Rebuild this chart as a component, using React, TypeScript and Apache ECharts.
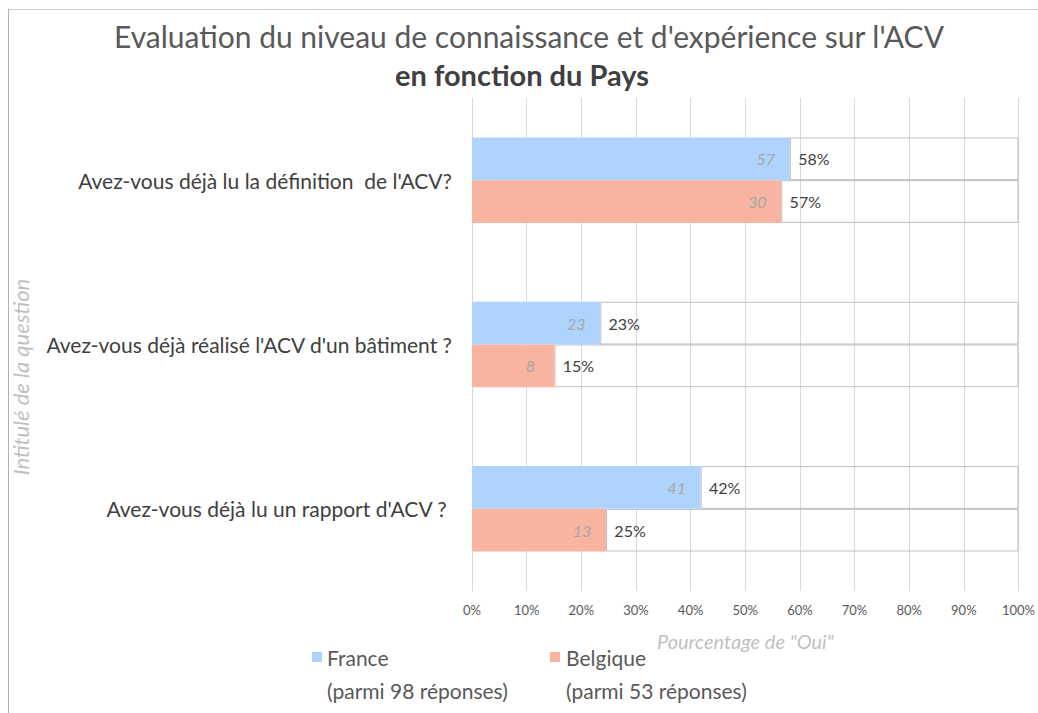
import React, { useEffect, useRef } from "react";
import * as echarts from "echarts";

const categories = [
  "Avez-vous déjà lu la définition  de l'ACV?",
  "Avez-vous déjà réalisé l'ACV d'un bâtiment ?",
  "Avez-vous déjà lu un rapport d'ACV ? ",
];
const francePct = [58.16, 23.47, 41.84];
const franceCount = [57, 23, 41];
const belgiquePct = [56.6, 15.09, 24.53];
const belgiqueCount = [30, 8, 13];
const xTicks = [0, 10, 20, 30, 40, 50, 60, 70, 80, 90, 100];
const seriesNames = ["France", "Belgique"];
const seriesSub = ["(parmi 98 réponses)", "(parmi 53 réponses)"];

const FONT = "Lato, 'Noto Sans', sans-serif";
const BLUE = "#AED3FC";
const SALMON = "#F8B3A1";

export default function App() {
  const ref = useRef<HTMLDivElement>(null);
  useEffect(() => {
    document.body.style.margin = "0";
    const chart = echarts.init(ref.current!, null, { renderer: "svg" });
    const mkLabel = (counts: number[]) => ({
      show: true,
      position: "right",
      distance: 0,
      align: "center",
      formatter: (p: any) => `{c|${counts[p.dataIndex]}}{p|${Math.round(p.value)}%}`,
      rich: {
        c: { width: 36, align: "right", padding: [0, 6, 0, 0], fontStyle: "italic", fontWeight: "normal", color: "#A6A6A6", fontSize: 16, fontFamily: FONT },
        p: { width: 36, align: "left", padding: [0, 0, 0, 6], fontWeight: "normal", color: "#404040", fontSize: 16, fontFamily: FONT },
      },
    });
    const restStyle = { color: "rgba(0,0,0,0)", borderColor: "#BFBFBF", borderWidth: 1 };
    chart.setOption({
      animation: false,
      textStyle: { fontFamily: FONT },
      grid: { left: 472, right: 16, top: 98, bottom: 122, containLabel: false },
      xAxis: {
        type: "value",
        min: 0,
        max: 100,
        interval: 10,
        axisLabel: { formatter: (v: number) => (xTicks.includes(v) ? v + "%" : ""), color: "#595959", fontSize: 13, margin: 12 },
        splitLine: { show: true, lineStyle: { color: "#D9D9D9" } },
        axisLine: { show: false },
        axisTick: { show: false },
        name: 'Pourcentage de "Oui"',
        nameLocation: "middle",
        nameGap: 40,
        nameTextStyle: { fontStyle: "italic", color: "#BFBFBF", fontSize: 20, fontFamily: FONT },
      },
      yAxis: {
        type: "category",
        inverse: true,
        data: categories,
        axisLine: { show: true, lineStyle: { color: "#D9D9D9" } },
        axisTick: { show: false },
        axisLabel: { color: "#404040", fontSize: 21, margin: 20 },
      },
      series: [
        { name: seriesNames[0], type: "bar", stack: "fr", data: francePct, itemStyle: { color: BLUE }, barCategoryGap: "48%", barGap: "0%", label: mkLabel(franceCount), z: 3 },
        { name: seriesNames[0] + "_rest", type: "bar", stack: "fr", data: francePct.map((v) => 100 - v), itemStyle: restStyle, z: 2 },
        { name: seriesNames[1], type: "bar", stack: "be", data: belgiquePct, itemStyle: { color: SALMON }, barCategoryGap: "48%", barGap: "0%", label: mkLabel(belgiqueCount), z: 3 },
        { name: seriesNames[1] + "_rest", type: "bar", stack: "be", data: belgiquePct.map((v) => 100 - v), itemStyle: restStyle, z: 2 },
      ],
      graphic: [
        { type: "line", shape: { x1: 8, y1: 9.5, x2: 1038, y2: 9.5 }, style: { stroke: "#D0D0D0", lineWidth: 1 } },
        { type: "line", shape: { x1: 8.5, y1: 9, x2: 8.5, y2: 713 }, style: { stroke: "#B0B0B0", lineWidth: 1 } },
        { type: "text", x: 529, y: 36, style: { text: "Evaluation du niveau de connaissance et d'expérience sur l'ACV", fill: "#595959", font: `30px ${FONT}`, textAlign: "center", textVerticalAlign: "middle" } },
        { type: "text", x: 522, y: 74, style: { text: "en fonction du Pays", fill: "#404040", font: `bold 29px ${FONT}`, textAlign: "center", textVerticalAlign: "middle" } },
        { type: "text", x: 20, y: 377, rotation: Math.PI / 2, style: { text: "Intitulé de la question", fill: "#BFBFBF", font: `italic 22px ${FONT}`, textAlign: "center", textVerticalAlign: "middle" } },
        { type: "rect", shape: { x: 312, y: 652, width: 10, height: 10 }, style: { fill: BLUE } },
        { type: "text", x: 327, y: 657, style: { text: seriesNames[0], fill: "#595959", font: `21px ${FONT}`, textVerticalAlign: "middle" } },
        { type: "text", x: 327, y: 690, style: { text: seriesSub[0], fill: "#595959", font: `21px ${FONT}`, textVerticalAlign: "middle" } },
        { type: "rect", shape: { x: 550, y: 652, width: 10, height: 10 }, style: { fill: SALMON } },
        { type: "text", x: 566, y: 657, style: { text: seriesNames[1], fill: "#595959", font: `21px ${FONT}`, textVerticalAlign: "middle" } },
        { type: "text", x: 566, y: 690, style: { text: seriesSub[1], fill: "#595959", font: `21px ${FONT}`, textVerticalAlign: "middle" } },
      ],
    });
    return () => chart.dispose();
  }, []);
  return <div ref={ref} style={{ width: 1038, height: 713 }} />;
}
